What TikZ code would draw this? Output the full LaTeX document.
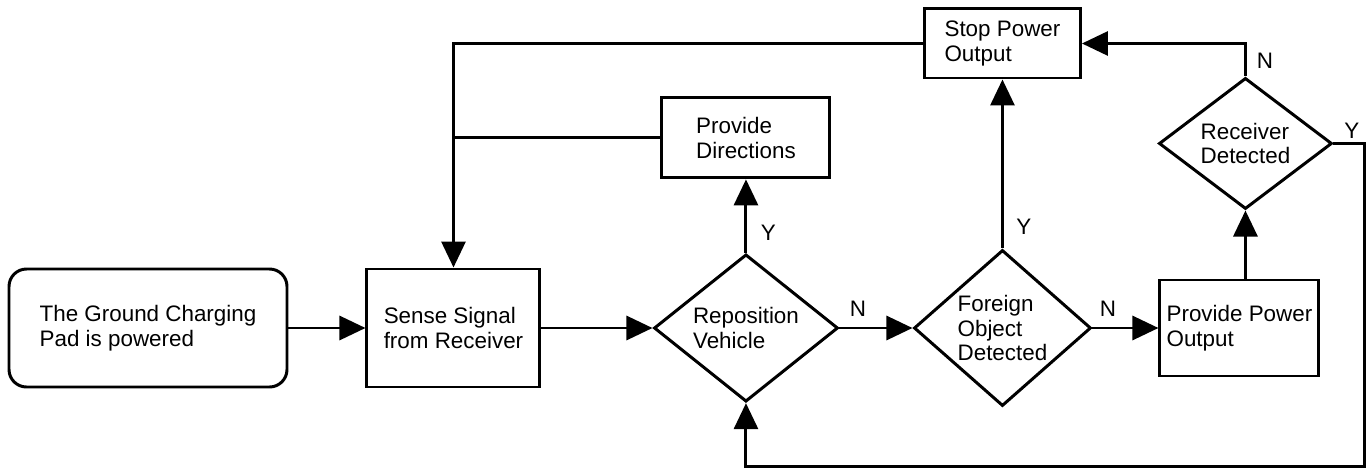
\documentclass[tikz,border=0pt]{standalone}
\usepackage{fontspec}
\setmainfont{Liberation Sans}
\usetikzlibrary{arrows.meta,positioning,shapes.geometric}

\begin{document}
\begin{tikzpicture}[
    every node/.style={font=\fontsize{12.75}{14.2}\selectfont},
    box/.style={draw, line width=1.7pt, align=left, inner sep=0pt},
    decision/.style={draw, diamond, line width=1.7pt, align=left, inner sep=0pt},
    flow/.style={line width=1.7pt, -{Triangle[length=0.52cm, width=0.48cm]}},
    link/.style={line width=1.7pt},
    yn/.style={anchor=south west, inner sep=0pt}]
    \useasboundingbox (0,0) rectangle (27.44,9.4);

    % main row
    \node[box, rounded corners=0.35cm, minimum width=5.56cm, minimum height=2.36cm] (pad) at (2.96,2.84) {The Ground Charging\\Pad is powered};
    \node[box, minimum width=3.46cm, minimum height=2.36cm, right=1.54cm of pad] (sense) {Sense Signal\\from Receiver};
    \node[decision, minimum width=3.68cm, minimum height=2.82cm, right=2.22cm of sense] (repos) {Reposition\\Vehicle};
    \node[decision, minimum width=3.54cm, minimum height=3.08cm, right=1.46cm of repos] (foreign) {Foreign\\Object\\Detected};
    \node[box, minimum width=3.18cm, minimum height=1.92cm, right=1.32cm of foreign] (power) {Provide Power\\Output};

    % upper row
    \node[box, minimum width=3.36cm, minimum height=1.6cm, above=1.47cm of repos] (dirs) {Provide\\Directions};
    \node[box, minimum width=3.12cm, minimum height=1.38cm, above=3.38cm of foreign] (stop) {Stop Power\\Output};
    \node[decision, minimum width=3.46cm, minimum height=2.28cm, above=1.36cm of power, xshift=0.12cm] (receiver) {Receiver\\Detected};

    \coordinate (loop) at (27.28,0.07);

    \draw[flow] (pad) -- (sense);
    \draw[flow] (sense) -- (repos);
    \draw[flow] (repos) -- (dirs);
    \draw[flow] (repos) -- (foreign);
    \draw[flow] (foreign) -- (stop);
    \draw[flow] (foreign) -- (power);
    \draw[flow] (receiver.south |- power.north) -- (receiver.south);
    \draw[flow] (receiver.north) |- (stop.east);
    \draw[flow] (receiver.east) -| (loop) -| (repos.south);
    \draw[flow] (stop.west) -| (sense.north);
    \draw[link] (dirs.west) -- (dirs.west -| sense.north);

    % yes / no labels
    \node[yn] (yDirs) at ([xshift=0.29cm, yshift=0.24cm]repos.north) {Y};
    \node[yn] (nForeign) at ([xshift=0.2cm, yshift=0.22cm]repos.east) {N};
    \node[yn] (yStop) at ([xshift=0.27cm, yshift=0.28cm]foreign.north) {Y};
    \node[yn] (nPower) at ([xshift=0.14cm, yshift=0.22cm]foreign.east) {N};
    \node[yn] (nReceiver) at ([xshift=0.22cm, yshift=0.16cm]receiver.north) {N};
    \node[yn] (yReceiver) at ([xshift=0.21cm, yshift=0.1cm]receiver.east) {Y};
\end{tikzpicture}
\end{document}
